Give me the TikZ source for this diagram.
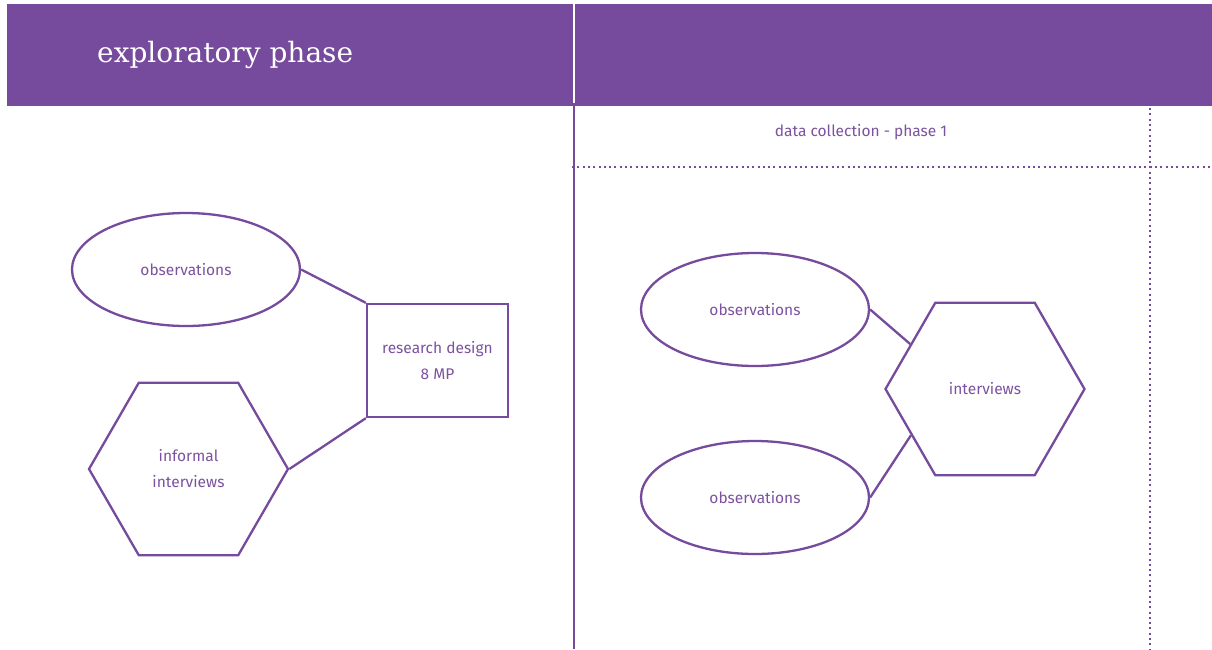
\documentclass[tikz,border=0pt]{standalone}
\usepackage{fontspec}
\setmainfont{Fira Sans}
\newfontfamily\titlefont{DejaVu Serif}
\usetikzlibrary{shapes.geometric}
\definecolor{phasepurple}{RGB}{118,74,156}
\definecolor{labelpurple}{RGB}{124,82,160}
\tikzset{
  shapeline/.style={draw=phasepurple, line width=2.3pt},
  oval/.style={shapeline, ellipse, minimum width=228pt, minimum height=113pt, inner sep=0pt},
  hexa/.style={shapeline, regular polygon, regular polygon sides=6, minimum size=199pt, inner sep=0pt},
  boxnode/.style={shapeline, rectangle, minimum width=141pt, minimum height=113pt, inner sep=0pt},
  lbl/.style={text=labelpurple, font=\fontsize{15.5pt}{26pt}\selectfont, align=center},
  link/.style={draw=phasepurple, line width=2.3pt},
  dotline/.style={draw=phasepurple, line width=2.2pt, dash pattern=on 2pt off 3.3pt},
}
\begin{document}
\begin{tikzpicture}[x=1pt, y=-1pt]
  \useasboundingbox[fill=white] (0,0) rectangle (1212,649);
  % header band with its divider
  \fill[phasepurple] (7,4) rectangle (1212,106);
  \draw[white, line width=2pt] (574,4) -- (574,103);
  \node[text=white, font=\titlefont\fontsize{28pt}{32pt}\selectfont, anchor=base west, inner sep=0pt] (title) at (97,62) {exploratory phase};
  % phase separators
  \draw[phasepurple, line width=2.3pt] (574,106) -- (574,649);
  \draw[dotline] (1150,108) -- (1150,649);
  \draw[dotline] (572,167) -- (1212,167);
  \node[lbl] (phase1) at (861,132) {data collection - phase 1};

  % exploratory phase
  \node[oval, lbl] (obsA) at (186,269.5) {observations};
  \node[hexa, lbl] (informal) at (188.5,469) {informal\\interviews};
  \node[boxnode, lbl] (design) at (437.5,360.5) {research design\\8 MP};
  \draw[link] (obsA.east) -- (design.north west);
  \draw[link] (informal.east) -- (design.south west);

  % data collection - phase 1
  \node[oval, lbl] (obsB) at (755,309.5) {observations};
  \node[oval, lbl] (obsC) at (755,497.5) {observations};
  \node[hexa, lbl] (interv) at (985,389) {interviews};
  \draw[link] (obsB.east) -- (interv.149);
  \draw[link] (obsC.east) -- (interv.212);
\end{tikzpicture}
\end{document}
